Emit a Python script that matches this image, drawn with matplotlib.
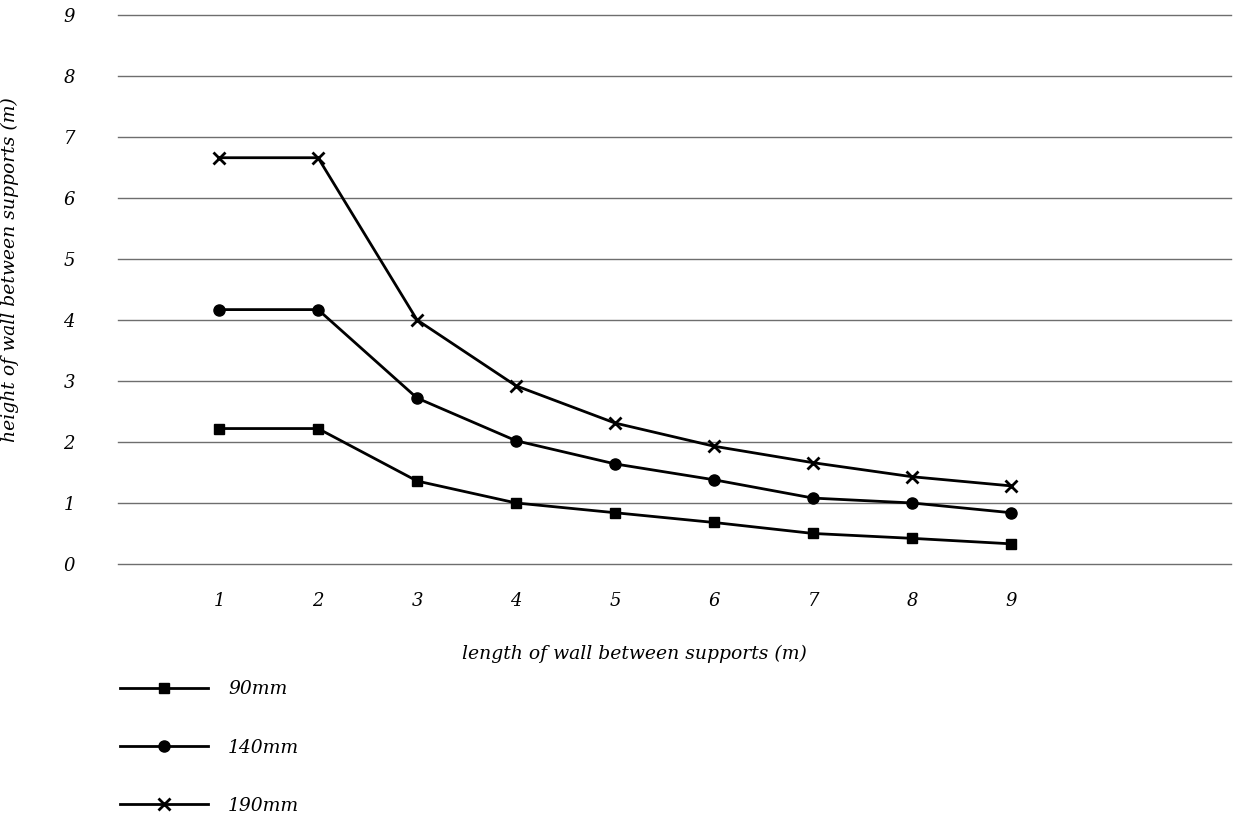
import matplotlib
matplotlib.use("Agg")
import matplotlib.pyplot as plt

# Data
lengths = [1, 2, 3, 4, 5, 6, 7, 8, 9]
h_90mm = [2.22, 2.22, 1.36, 1.0, 0.84, 0.68, 0.50, 0.42, 0.33]
h_140mm = [4.17, 4.17, 2.72, 2.02, 1.64, 1.38, 1.08, 1.0, 0.84]
h_190mm = [6.66, 6.66, 4.0, 2.92, 2.31, 1.93, 1.66, 1.43, 1.28]
y_ticks = [0, 1, 2, 3, 4, 5, 6, 7, 8, 9]

plt.rcParams["font.family"] = ["DejaVu Serif"]
plt.rcParams["font.style"] = "italic"

fig = plt.figure(figsize=(12.4, 8.19), dpi=100)
ax = fig.add_axes([0.0952, 0.3114, 0.8975, 0.6703])

ax.plot(lengths, h_90mm, color="black", lw=2, marker="s", ms=7, label="90mm")
ax.plot(lengths, h_140mm, color="black", lw=2, marker="o", ms=8, label="140mm")
ax.plot(lengths, h_190mm, color="black", lw=2, marker="x", ms=8, mew=2,
        label="190mm")

ax.set_ylim(0, 9)
ax.set_xlim(-0.02, 11.22)
ax.set_yticks(y_ticks)
ax.set_xticks(lengths)
ax.yaxis.grid(True, color="#6e6e6e", lw=1)
for gl in ax.get_ygridlines():
    gl.set_clip_on(False)
ax.set_axisbelow(True)
for s in ax.spines.values():
    s.set_visible(False)
ax.tick_params(axis="both", length=0, labelsize=13)
ax.tick_params(axis="y", pad=31)
ax.tick_params(axis="x", pad=20)

ax.set_xlabel("length of wall between supports (m)", fontsize=13.5)
ax.xaxis.set_label_coords(0.4636, -0.148)
ax.set_ylabel("height of wall between supports (m)", fontsize=13.5)
ax.yaxis.set_label_coords(-0.089, 0.5355)

fig.legend(loc="upper left", bbox_to_anchor=(0.083, 0.190), frameon=False,
           handlelength=4.7, handletextpad=1.07, labelspacing=2.15,
           prop={"style": "italic", "size": 13.5})

fig.savefig("out.png", dpi=100)
